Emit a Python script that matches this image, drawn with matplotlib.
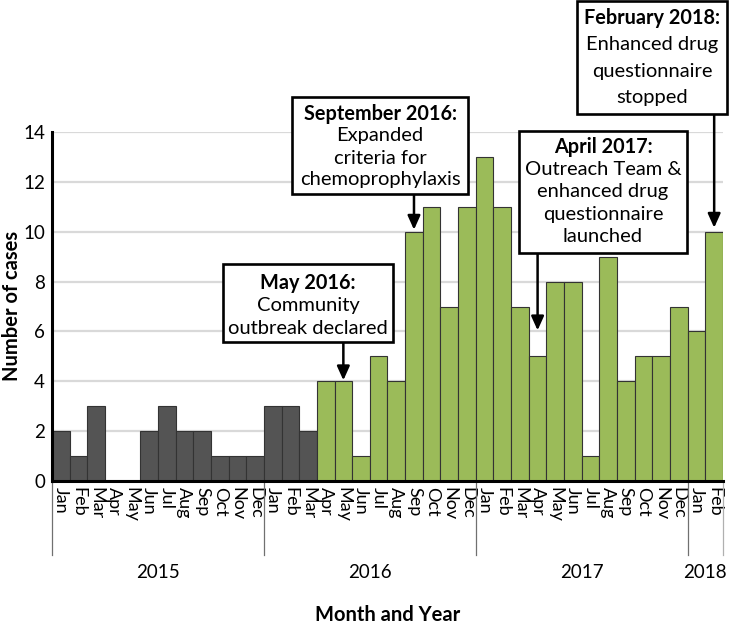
import matplotlib
matplotlib.use("Agg")
import matplotlib.pyplot as plt
from matplotlib.transforms import blended_transform_factory
from matplotlib.patches import Rectangle

plt.rcParams['font.family'] = ['Lato', 'DejaVu Sans']

# ---------------- data ----------------
month_labels = ['Jan', 'Feb', 'Mar', 'Apr', 'May', 'Jun', 'Jul', 'Aug', 'Sep', 'Oct', 'Nov', 'Dec',
                'Jan', 'Feb', 'Mar', 'Apr', 'May', 'Jun', 'Jul', 'Aug', 'Sep', 'Oct', 'Nov', 'Dec',
                'Jan', 'Feb', 'Mar', 'Apr', 'May', 'Jun', 'Jul', 'Aug', 'Sep', 'Oct', 'Nov', 'Dec',
                'Jan', 'Feb']
year_of_month = [2015] * 12 + [2016] * 12 + [2017] * 12 + [2018] * 2
cases = [2, 1, 3, 0, 0, 2, 3, 2, 2, 1, 1, 1,
         3, 3, 2, 4, 4, 1, 5, 4, 10, 11, 7, 11,
         13, 11, 7, 5, 8, 8, 1, 9, 4, 5, 5, 7,
         6, 10]
outbreak_start = (2016, 'Apr')   # bars from this month on are green
y_ticks = [0, 2, 4, 6, 8, 10, 12, 14]

annotation_titles = ['May 2016:', 'September 2016:', 'April 2017:', 'February 2018:']
annotation_bodies = [['Community', 'outbreak declared'],
                     ['Expanded', 'criteria for', 'chemoprophylaxis'],
                     ['Outreach Team &', 'enhanced drug', 'questionnaire', 'launched'],
                     ['Enhanced drug', 'questionnaire', 'stopped']]
annotation_months = [(2016, 'May'), (2016, 'Sep'), (2017, 'Apr'), (2018, 'Feb')]

# ---------------- layout / style ----------------
W, H, DPI = 729, 629, 100
GREY = '#545454'
GREEN = '#9BBB59'
EDGE = '#333333'
# box rectangles in pixels: left, top, right, bottom ; first-line y, line spacing, arrow gap(px)
box_layout = [
    (223, 264, 393, 342, 283, 23, 1),
    (292, 97, 468, 194, 114, 22, 2),
    (519, 131, 687, 253, 147, 22.5, 26),
    (577, 1, 727, 114, 18, 26.5, 4),
]

fig = plt.figure(figsize=(W / DPI, H / DPI), dpi=DPI)
ax_l, ax_r, ax_b, ax_t = 52, 723, 481, 132
ax = fig.add_axes([ax_l / W, 1 - ax_b / H, (ax_r - ax_l) / W, (ax_b - ax_t) / H])


def px(x, y):
    return x / W, 1 - y / H


n = len(cases)
xs = list(range(n))
start_idx = next(i for i in xs if (year_of_month[i], month_labels[i]) == outbreak_start)
colors = [GREY if i < start_idx else GREEN for i in xs]

ax.bar(xs, cases, width=1.0, color=colors, edgecolor=EDGE, linewidth=0.8, zorder=3)
ax.set_xlim(-0.5, n - 0.5)
ax.set_ylim(0, 14)
ax.set_yticks(y_ticks)
ax.yaxis.grid(True, color='#d9d9d9', linewidth=1.6, zorder=0)
ax.set_axisbelow(True)
ax.tick_params(axis='y', length=0, pad=5, labelsize=13.5)
ax.tick_params(axis='x', length=0, pad=4, labelsize=13)
ax.set_xticks(xs)
ax.set_xticklabels(month_labels, rotation=270, ha='center', va='top')
for s in ['top', 'right']:
    ax.spines[s].set_visible(False)
for s in ['left', 'bottom']:
    ax.spines[s].set_linewidth(2.2)
    ax.spines[s].set_color('black')
    ax.spines[s].set_zorder(5)

# year separators and labels
bt = blended_transform_factory(ax.transData, ax.transAxes)
sep_depth = -(555 - ax_b) / (ax_b - ax_t)
years = sorted(set(year_of_month))
bounds = [-0.5]
for y in years:
    idx = [i for i in xs if year_of_month[i] == y]
    bounds.append(idx[-1] + 0.5)
    ax.text((idx[0] + idx[-1]) / 2, -(572 - ax_b) / (ax_b - ax_t), str(y),
            transform=bt, ha='center', va='center', fontsize=13.5)
for i, b in enumerate(bounds):
    ax.plot([b, b], [0, sep_depth], transform=bt, clip_on=False,
            color='#b0b0b0' if i == len(bounds) - 1 else '#707070', lw=0.9)

ax.text(0.5, -(615 - ax_b) / (ax_b - ax_t), 'Month and Year', transform=ax.transAxes,
        ha='center', va='center', fontsize=14.5, fontweight='bold')
fig.text(12 / W, 1 - 306 / H, 'Number of cases', rotation=90, ha='center', va='center',
         fontsize=14.5, fontweight='bold')

# annotations
tb = blended_transform_factory(ax.transData, fig.transFigure)
for title, body, (yr, mo), lay in zip(annotation_titles, annotation_bodies, annotation_months, box_layout):
    l, t, r, b, y0, sp, gap = lay
    fx0, fy0 = px(l, b)
    fx1, fy1 = px(r, t)
    fig.patches.append(Rectangle((fx0, fy0), fx1 - fx0, fy1 - fy0, transform=fig.transFigure,
                                 facecolor='white', edgecolor='black', linewidth=1.9, zorder=6))
    cx = (l + r) / 2
    fig.text(*px(cx, y0), title, ha='center', va='center', fontsize=14.3, fontweight='bold', zorder=7)
    for k, line in enumerate(body):
        fig.text(*px(cx, y0 + sp * (k + 1)), line, ha='center', va='center', fontsize=14.5, zorder=7)
    idx = next(i for i in xs if (year_of_month[i], month_labels[i]) == (yr, mo))
    ax.annotate('', xy=(idx, cases[idx]), xycoords='data',
                xytext=(idx, 1 - b / H), textcoords=tb,
                arrowprops=dict(arrowstyle='-|>,head_length=0.4,head_width=0.18',
                                mutation_scale=21, lw=1.8, color='black',
                                shrinkA=0, shrinkB=gap * 0.72),
                annotation_clip=False, zorder=8)

fig.savefig('out.png', dpi=DPI)
